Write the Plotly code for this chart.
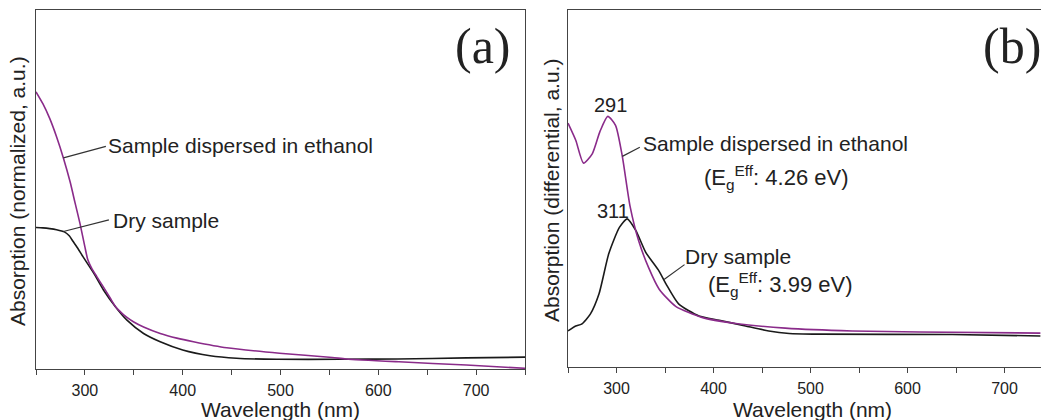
import plotly.graph_objects as go

# ---------------- data ----------------
# Panel (a): normalized absorption
a_eth_wl = [250, 257, 264, 271, 278, 285, 290, 295, 300, 303, 307, 312, 319, 326, 332, 338, 343, 350, 360, 377,
            394, 411, 445, 499, 553, 567, 621, 690, 750]
a_eth_val = [0.772, 0.739, 0.698, 0.647, 0.588, 0.520, 0.462, 0.405, 0.340, 0.304, 0.280, 0.258, 0.228, 0.197,
             0.171, 0.155, 0.144, 0.131, 0.117, 0.099, 0.086, 0.076, 0.059, 0.044, 0.032, 0.028, 0.020, 0.011,
             0.002]
a_dry_wl = [250, 257, 264, 271, 279, 284, 288, 293, 298, 309, 319, 331, 343, 360, 377, 400, 428, 455, 496, 560,
            620, 690, 750]
a_dry_val = [0.394, 0.393, 0.391, 0.388, 0.382, 0.371, 0.355, 0.335, 0.313, 0.267, 0.220, 0.174, 0.136, 0.099,
             0.076, 0.053, 0.037, 0.030, 0.027, 0.027, 0.028, 0.031, 0.033]

# Panel (b): differential absorption
b_eth_wl = [250, 258, 266, 275, 283, 291, 299, 306, 314, 323, 333, 344, 361, 388, 423, 474, 543, 612, 737]
b_eth_val = [0.683, 0.635, 0.571, 0.597, 0.660, 0.702, 0.677, 0.590, 0.450, 0.352, 0.279, 0.218, 0.170, 0.139,
             0.122, 0.109, 0.101, 0.098, 0.095]
b_dry_wl = [250, 258, 264, 273, 282, 292, 303, 311, 320, 330, 344, 351, 364, 385, 406, 433, 457, 478, 509, 646, 737]
b_dry_val = [0.101, 0.115, 0.120, 0.148, 0.205, 0.317, 0.391, 0.415, 0.382, 0.322, 0.268, 0.233, 0.177, 0.143,
             0.131, 0.115, 0.101, 0.094, 0.092, 0.091, 0.087]

x_ticks = [300, 400, 500, 600, 700]
x_tick_labels = ["300", "400", "500", "600", "700"]

PURPLE = "#8a2b8a"
BLACK = "#1a1a1a"
TXT = "#222222"
W, H = 1041, 420


def px(x):
    return x / W


def py(y):
    return 1 - y / H


fig = go.Figure()
line_kw = dict(shape="spline", smoothing=0.6, width=1.6)
fig.add_trace(go.Scatter(x=a_dry_wl, y=a_dry_val, mode="lines", line=dict(color=BLACK, **line_kw),
                         xaxis="x", yaxis="y", showlegend=False))
fig.add_trace(go.Scatter(x=a_eth_wl, y=a_eth_val, mode="lines", line=dict(color=PURPLE, **line_kw),
                         xaxis="x", yaxis="y", showlegend=False))
fig.add_trace(go.Scatter(x=b_dry_wl, y=b_dry_val, mode="lines", line=dict(color=BLACK, **line_kw),
                         xaxis="x2", yaxis="y2", showlegend=False))
fig.add_trace(go.Scatter(x=b_eth_wl, y=b_eth_val, mode="lines", line=dict(color=PURPLE, **line_kw),
                         xaxis="x2", yaxis="y2", showlegend=False))

axis_line = dict(showline=True, linecolor="#444444", linewidth=1.3, showgrid=False, zeroline=False)
xcommon = dict(
    **axis_line,
    tickmode="array", tickvals=x_ticks, ticktext=x_tick_labels,
    ticks="outside", ticklen=5, tickwidth=1, tickcolor="#444444",
    ticklabelstandoff=2,
    minor=dict(tickvals=[250, 350, 450, 550, 650, 750], ticks="outside", ticklen=5, tickwidth=1,
               tickcolor="#444444"),
    tickfont=dict(family="Liberation Sans, Arial", size=16, color=TXT),
    mirror=True,
)
fig.update_layout(
    width=W, height=H,
    margin=dict(l=0, r=0, t=0, b=0),
    paper_bgcolor="white", plot_bgcolor="white",
    xaxis=dict(**xcommon, domain=[px(36), px(525)], range=[250, 750], anchor="y"),
    yaxis=dict(**axis_line, domain=[py(369), py(10)], range=[0, 1], showticklabels=False, ticks="",
               mirror=True, anchor="x"),
    xaxis2=dict(**xcommon, domain=[px(568), 1.0], range=[250, 250 + (W - 568) / 0.97], anchor="y2"),
    yaxis2=dict(**axis_line, domain=[py(367), py(10)], range=[0, 1], showticklabels=False, ticks="",
                mirror=False, anchor="x2"),
)

anns = []


def txt(x, y, text, xanchor="left", size=21, family="Liberation Sans, Arial", angle=0):
    anns.append(dict(x=px(x), y=py(y), xref="paper", yref="paper", text=text, showarrow=False,
                     xanchor=xanchor, yanchor="middle", textangle=angle,
                     font=dict(family=family, size=size, color=TXT)))


def leader(xr, yr, xd, yd, ax, ay):
    anns.append(dict(x=xd, y=yd, xref=xr, yref=yr, ax=ax, ay=ay, axref="pixel", ayref="pixel",
                     text="", showarrow=True, arrowhead=0, arrowwidth=1.2, arrowcolor="#333333"))


# axis titles
txt(18, 191, "Absorption (normalized, a.u.)", xanchor="center", size=21, angle=-90)
txt(552, 191, "Absorption (differential, a.u.)", xanchor="center", size=21, angle=-90)
txt(280, 409, "Wavelength (nm)", xanchor="center", size=21)
txt(812, 409, "Wavelength (nm)", xanchor="center", size=21)

# panel labels
txt(483, 46, "(a)", xanchor="center", size=50, family="Liberation Serif, Times New Roman")
txt(1012, 46, "(b)", xanchor="center", size=50, family="Liberation Serif, Times New Roman")

# panel (a) labels
txt(106, 145, "Sample dispersed in ethanol")
leader("x", "y", 278, 0.588, 44, -12)
txt(111, 220, "Dry sample")
leader("x", "y", 278, 0.383, 47, -12)

# panel (b) labels
txt(610, 105, "291", xanchor="center", size=20)
txt(613, 211, "311", xanchor="center", size=20)
txt(641, 143, "Sample dispersed in ethanol")
leader("x2", "y2", 306, 0.590, 19, -10)
txt(702, 177, "(E<sub>g</sub><sup>Eff</sup>: 4.26 eV)", size=22)
txt(683, 256, "Dry sample")
leader("x2", "y2", 349, 0.245, 22, -16)
txt(706, 284, "(E<sub>g</sub><sup>Eff</sup>: 3.99 eV)", size=22)

fig.update_layout(annotations=anns)
fig.write_html("out.html", config={"displayModeBar": False},
               post_script="document.body.style.margin='0px';document.body.style.padding='0px';")
